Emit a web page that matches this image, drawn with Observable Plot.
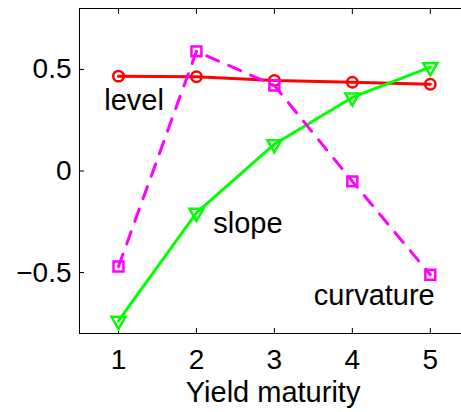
<!DOCTYPE html>
<html>
<head>
<meta charset="utf-8">
<script src="https://cdn.jsdelivr.net/npm/d3@7"></script>
<script src="https://cdn.jsdelivr.net/npm/@observablehq/plot@0.6"></script>
<style>
html, body { margin: 0; padding: 0; background: white; overflow: hidden; }
</style>
</head>
<body>
<div id="chart"></div>
<script>
const maturities = [1, 2, 3, 4, 5];
const level = [0.467, 0.464, 0.446, 0.437, 0.427];
const slope = [-0.738, -0.206, 0.132, 0.362, 0.511];
const curvature = [-0.470, 0.589, 0.421, -0.051, -0.511];
const xTicks = [1, 2, 3, 4, 5];
const yTicks = [-0.5, 0, 0.5];
const yTickLabels = ["\u22120.5", "0", "0.5"];
const seriesLabels = ["level", "slope", "curvature"];
const labelX = [0.817, 2.216, 3.506];
const labelY = [0.347, -0.259, -0.612];
const xLabel = "Yield maturity";
const xDomain = [0.5, 5.4];
const yDomain = [-0.8, 0.8];

const font = "'Liberation Sans', Arial, Helvetica, sans-serif";

const chart = Plot.plot({
  width: 461,
  height: 412,
  marginLeft: 79,
  marginTop: 8,
  marginBottom: 79,
  marginRight: 0,
  x: {domain: xDomain},
  y: {domain: yDomain},
  style: {fontFamily: font, fontSize: "28px", color: "black", background: "white"},
  marks: [
    Plot.ruleX([xDomain[0]], {stroke: "black", strokeWidth: 1}),
    Plot.ruleY(yDomain, {stroke: "black", strokeWidth: 1}),
    Plot.axisX(xTicks, {anchor: "bottom", tickSize: 0, tickPadding: 16, fontSize: 28, label: null, tickFormat: d => String(d)}),
    Plot.axisX(xTicks, {anchor: "bottom", tickSize: -5, label: null, tickFormat: () => ""}),
    Plot.axisX(xTicks, {anchor: "top", tickSize: -5, label: null, tickFormat: () => ""}),
    Plot.axisY(yTicks, {anchor: "left", tickSize: 0, tickPadding: 8, fontSize: 28, label: null, tickFormat: d => yTickLabels[yTicks.indexOf(d)]}),
    Plot.axisY(yTicks, {anchor: "left", tickSize: -5, label: null, tickFormat: () => ""}),

    Plot.line(maturities, {x: d => d, y: (d, i) => level[i], stroke: "#ff0000", strokeWidth: 3}),
    Plot.dot(maturities, {x: d => d, y: (d, i) => level[i], symbol: "circle", r: 5.2, stroke: "#ff0000", strokeWidth: 2.5, fill: "none"}),

    Plot.line(maturities, {x: d => d, y: (d, i) => slope[i], stroke: "#00ff00", strokeWidth: 3}),
    Plot.dot(maturities, {x: d => d, y: (d, i) => slope[i], symbol: "triangle", rotate: 180, r: 5.2, stroke: "#00ff00", strokeWidth: 2.5, fill: "none"}),

    Plot.line(maturities, {x: d => d, y: (d, i) => curvature[i], stroke: "#ff00ff", strokeWidth: 3, strokeDasharray: "13,11"}),
    Plot.dot(maturities, {x: d => d, y: (d, i) => curvature[i], symbol: "square", r: 5.6, stroke: "#ff00ff", strokeWidth: 2.5, fill: "none"}),

    Plot.text(seriesLabels, {x: (d, i) => labelX[i], y: (d, i) => labelY[i], text: d => d, textAnchor: "start", fontSize: 29, fill: "black"}),
    Plot.text([xLabel], {frameAnchor: "bottom", lineAnchor: "middle", text: d => d, dy: 59, dx: 2.6, fontSize: 29, fill: "black"})
  ]
});
document.getElementById("chart").appendChild(chart);
</script>
</body>
</html>
